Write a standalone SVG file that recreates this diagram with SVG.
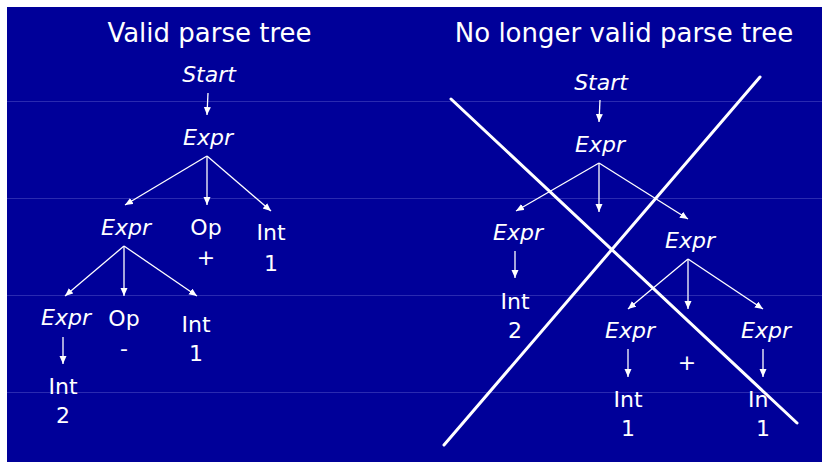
<svg xmlns="http://www.w3.org/2000/svg" width="822" height="462" viewBox="0 0 822 462">
  <style>
    .t { font-family: "DejaVu Sans", "Liberation Sans", sans-serif; fill: #ffffff; text-anchor: middle; }
    .title { font-size: 26px; }
    .n { font-size: 22px; }
    .i { font-style: italic; }
    .edge { stroke: #ffffff; stroke-width: 1.3; fill: none; marker-end: url(#ah); }
    .grid { stroke: #2a2ab0; stroke-width: 1; }
    .cross { stroke: #ffffff; stroke-width: 3; stroke-linecap: round; }
  </style>
  <defs>
    <marker id="ah" markerUnits="userSpaceOnUse" markerWidth="9" markerHeight="8" refX="8" refY="3.5" orient="auto">
      <path d="M0,0 L8,3.5 L0,7 z" fill="#ffffff"/>
    </marker>
  </defs>
  <rect x="0" y="0" width="822" height="462" fill="#ffffff"/>
  <rect x="7" y="7" width="815" height="455" fill="#000099"/>
  <g id="guides">
    <line class="grid" x1="7" y1="101.5" x2="822" y2="101.5"/>
    <line class="grid" x1="7" y1="198.5" x2="822" y2="198.5"/>
    <line class="grid" x1="7" y1="295.5" x2="822" y2="295.5"/>
    <line class="grid" x1="7" y1="392.5" x2="822" y2="392.5"/>
  </g>
  <text class="t title" x="209.5" y="42">Valid parse tree</text>
  <text class="t title" x="624" y="42">No longer valid parse tree</text>

  <!-- Left tree -->
  <g id="L_start"><text class="t n i" x="209" y="82">Start</text></g>
  <g id="L_expr1"><text class="t n i" x="208" y="145">Expr</text></g>
  <g id="L_expr2"><text class="t n i" x="126" y="235">Expr</text></g>
  <g id="L_op1"><text class="t n" x="206" y="235">Op</text><text class="t n" x="206" y="265">+</text></g>
  <g id="L_int1"><text class="t n" x="271" y="239.5">Int</text><text class="t n" x="271" y="271">1</text></g>
  <g id="L_expr3"><text class="t n i" x="66" y="325">Expr</text></g>
  <g id="L_op2"><text class="t n" x="124" y="326">Op</text><text class="t n" x="124" y="356">-</text></g>
  <g id="L_int2"><text class="t n" x="196" y="331.5">Int</text><text class="t n" x="196" y="361">1</text></g>
  <g id="L_int3"><text class="t n" x="63" y="394">Int</text><text class="t n" x="63" y="423">2</text></g>

  <!-- Right tree -->
  <g id="R_start"><text class="t n i" x="601" y="90">Start</text></g>
  <g id="R_expr1"><text class="t n i" x="600" y="152">Expr</text></g>
  <g id="R_expr2"><text class="t n i" x="518" y="240">Expr</text></g>
  <g id="R_int2"><text class="t n" x="515" y="309">Int</text><text class="t n" x="515" y="338">2</text></g>
  <g id="R_expr3"><text class="t n i" x="690" y="247.5">Expr</text></g>
  <g id="R_expr4"><text class="t n i" x="630" y="338">Expr</text></g>
  <g id="R_plus"><text class="t n" x="687" y="370">+</text></g>
  <g id="R_expr5"><text class="t n i" x="766" y="338">Expr</text></g>
  <g id="R_int1a"><text class="t n" x="628" y="407">Int</text><text class="t n" x="628" y="436">1</text></g>
  <g id="R_int1b"><text class="t n" x="748" y="407" style="text-anchor:start">In</text><text class="t n" x="763" y="436">1</text></g>

  <g id="connectors">
    <line class="edge" x1="208" y1="93" x2="207" y2="115"/>
    <line class="edge" x1="207" y1="156" x2="125" y2="205"/>
    <line class="edge" x1="207" y1="156" x2="207" y2="205"/>
    <line class="edge" x1="207" y1="156" x2="271" y2="211"/>
    <line class="edge" x1="124" y1="246" x2="65" y2="296"/>
    <line class="edge" x1="124" y1="246" x2="124" y2="296"/>
    <line class="edge" x1="124" y1="246" x2="197" y2="296"/>
    <line class="edge" x1="63" y1="337" x2="63" y2="364"/>

    <line class="edge" x1="600" y1="100" x2="599" y2="122"/>
    <line class="edge" x1="599" y1="163" x2="516" y2="211"/>
    <line class="edge" x1="599" y1="163" x2="599" y2="212"/>
    <line class="edge" x1="599" y1="163" x2="688" y2="219"/>
    <line class="edge" x1="515" y1="251" x2="515" y2="278"/>
    <line class="edge" x1="688" y1="259" x2="628" y2="309"/>
    <line class="edge" x1="688" y1="259" x2="688" y2="309"/>
    <line class="edge" x1="688" y1="259" x2="763" y2="309"/>
    <line class="edge" x1="628" y1="349" x2="628" y2="377"/>
    <line class="edge" x1="763" y1="349" x2="763" y2="377"/>
  </g>

  <g id="cross">
    <line class="cross" x1="451" y1="99" x2="797" y2="423"/>
    <line class="cross" x1="444" y1="445" x2="760" y2="77"/>
  </g>
</svg>
